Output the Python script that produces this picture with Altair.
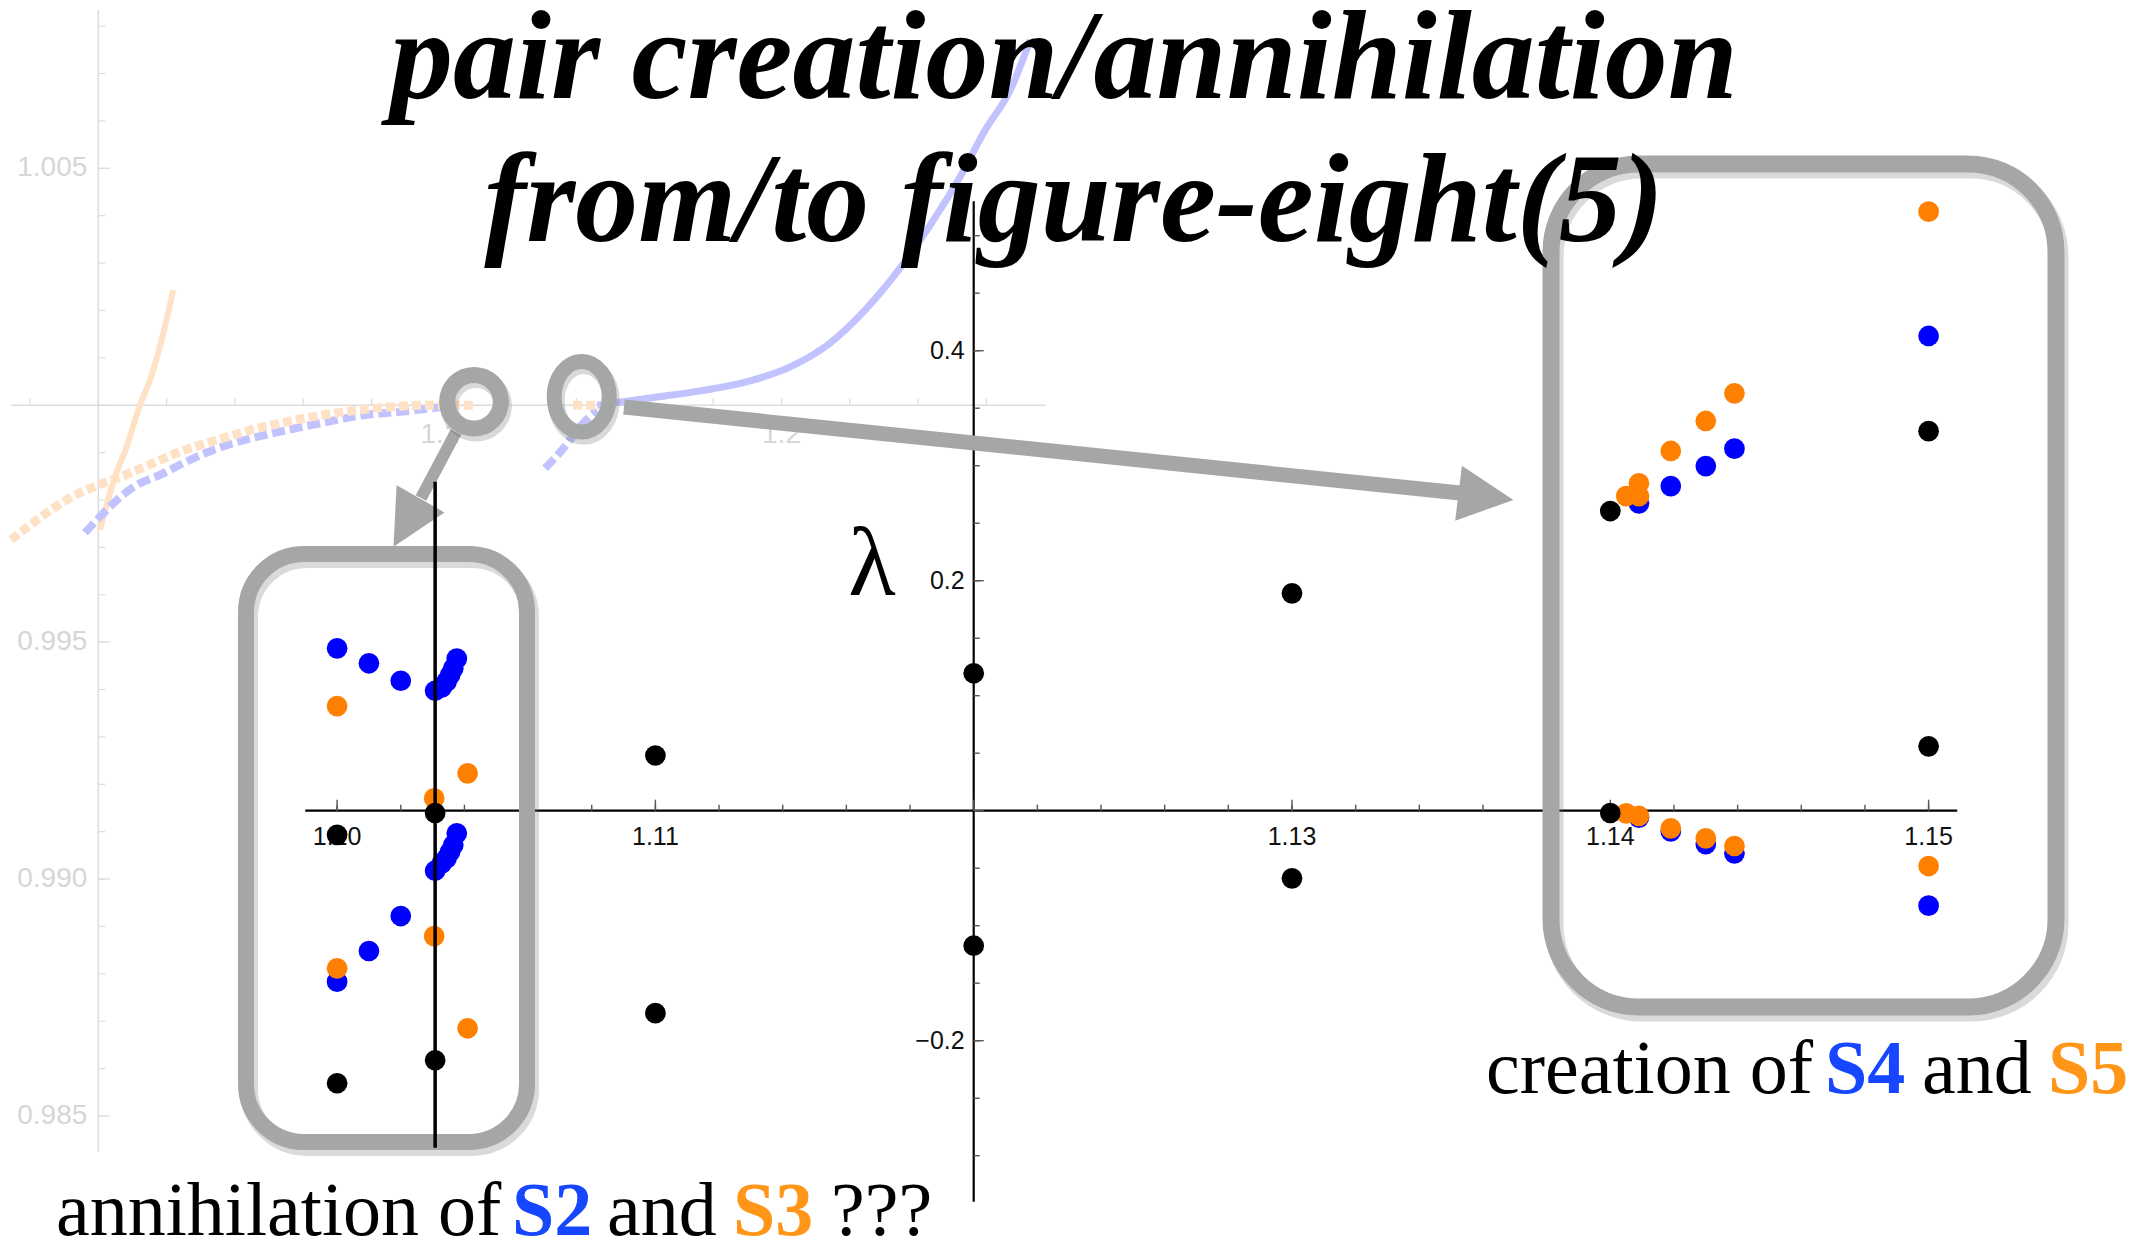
import altair as alt
import pandas as pd

W, H = 2143, 1252

# ---------------- eigenvalues λ of the orbits (main panel) ----------------
black_x = [1.1000, 1.1000, 1.10308, 1.10308, 1.1100, 1.1100, 1.1200, 1.1200,
           1.1300, 1.1300, 1.1400, 1.1400, 1.1500, 1.1500]
black_lam = [-0.021, -0.237, -0.002, -0.217, 0.048, -0.176, 0.1195, -0.1174,
             0.189, -0.0588, 0.2606, -0.002, 0.330, 0.056]

blue_x = [1.1000, 1.1010, 1.1020, 1.10308, 1.10329, 1.10344, 1.10355, 1.10365, 1.10376,
          1.1000, 1.1010, 1.1020, 1.10308, 1.10329, 1.10344, 1.10355, 1.10365, 1.10376,
          1.1409, 1.1419, 1.1430, 1.1439, 1.1500,
          1.1409, 1.1419, 1.1430, 1.1439, 1.1500]
blue_lam = [0.1412, 0.1282, 0.1130, 0.1043, 0.1073, 0.1122, 0.1180, 0.1238, 0.1322,
            -0.1487, -0.1220, -0.0916, -0.0522, -0.0458, -0.0414, -0.0357, -0.0298, -0.0197,
            0.2673, 0.2823, 0.2997, 0.3148, 0.4128,
            -0.0060, -0.0180, -0.0290, -0.0371, -0.0826]

orange_x = [1.1000, 1.1041, 1.10305, 1.1000, 1.10305, 1.1041,
            1.1405, 1.1409, 1.1409, 1.1419, 1.1430, 1.1439, 1.1500,
            1.1405, 1.1409, 1.1419, 1.1430, 1.1439, 1.1500]
orange_lam = [0.0910, 0.0325, 0.0108, -0.1371, -0.1090, -0.1892,
              0.2736, 0.2736, 0.2847, 0.3128, 0.3389, 0.3629, 0.5209,
              -0.0023, -0.0046, -0.0153, -0.0240, -0.0307, -0.0481]

# marker of the annihilation point
marker_x = 1.10308
marker_lam = [-0.293, 0.286]

# main axes
x_extent = [1.0990, 1.1509]
lam_extent = [-0.340, 0.530]
x_major = [1.10, 1.11, 1.12, 1.13, 1.14, 1.15]
x_major_labels = ["1.10", "1.11", "", "1.13", "1.14", "1.15"]
x_minor = [round(1.100 + 0.002 * i, 3) for i in range(26)]
lam_major = [-0.2, 0.0, 0.2, 0.4]
lam_major_labels = ["\u22120.2", "", "0.2", "0.4"]
lam_minor = [round(-0.30 + 0.05 * i, 2) for i in range(17)]

# ---------------- background panel: branches of the orbit family ----------------
orange_solid_x = [1.0005, 1.00489, 1.00832, 1.01221, 1.01514, 1.01903, 1.02196]
orange_solid_y = [0.99737, 0.99849, 0.99913, 1.00001, 1.00053, 1.00152, 1.00243]

orange_dash_x = [0.97444, 0.99113, 1.00928, 1.0171, 1.02392, 1.03174, 1.03953, 1.04735,
                 1.05517, 1.06296, 1.07078, 1.07859, 1.08638, 1.0942, 1.1108]
orange_dash_y = [0.99716, 0.99802, 0.99857, 0.99881, 0.99902, 0.99920, 0.99937, 0.99953,
                 0.99965, 0.99976, 0.99985, 0.99992, 0.99997, 1.0000, 1.0000]
orange_dash2_x = [1.13896, 1.14603]
orange_dash2_y = [1.0000, 1.0000]

blue_dash_x = [0.99611, 1.01133, 1.01807, 1.02782, 1.03953, 1.05124, 1.06492, 1.07859,
               1.08835, 1.10006]
blue_dash_y = [0.99731, 0.99832, 0.99853, 0.99888, 0.99920, 0.99941, 0.99962, 0.99980,
               0.99986, 0.99996]
blue_dash2_x = [1.1308, 1.13617, 1.14106, 1.14594]
blue_dash2_y = [0.99867, 0.99909, 0.99955, 0.9999]

blue_solid_x = [1.14603, 1.16155, 1.17619, 1.19083, 1.20254, 1.21426, 1.22451, 1.23475,
                1.24354, 1.25174, 1.25965, 1.26697, 1.27283]
blue_solid_y = [1.0000, 1.000154, 1.000302, 1.000513, 1.000808, 1.001314, 1.002011,
                1.002897, 1.003804, 1.004753, 1.005808, 1.006652, 1.007707]

# background axes
bg_x_extent = [0.9745, 1.2772]
bg_y_extent = [0.98424, 1.00834]
bg_x_minor = [round(0.98 + 0.02 * i, 2) for i in range(15)]
bg_x_major = [1.1, 1.2]
bg_x_labels = ["1.1", "1.2"]
bg_y_minor = [round(0.985 + 0.001 * i, 3) for i in range(24)]
bg_y_major = [1.005, 0.995, 0.990, 0.985]
bg_y_labels = ["1.005", "0.995", "0.990", "0.985"]

# ---------------- styling ----------------
BLUE, ORANGE, BLACK = "#0000ff", "#ff8000", "#000000"
TXT_BLUE, TXT_ORANGE = "#1646ff", "#ff9618"
GRAY = "#a4a7a5"
SHADOW = "#6a6a6a"
FAINT_BLUE, FAINT_ORANGE = "#c2c2ff", "#ffe2c6"
FAINT_AXIS = "#dcdcdc"
SANS = "Liberation Sans"
SERIF = "Liberation Serif"

MX = dict(domain=[1.10, 1.15], range=[337.1, 1928.6])
MY = dict(domain=[-0.2, 0.4], range=[1040.7, 350.7])
IX = dict(domain=[1.0, 1.2], range=[98.3, 781.5])
IY = dict(domain=[0.985, 1.005], range=[1116.0, 168.3])


def sx(field, sc):
    return alt.X(field, type="quantitative", axis=None,
                 scale=alt.Scale(nice=False, zero=False, **sc))


def sy(field, sc):
    return alt.Y(field, type="quantitative", axis=None,
                 scale=alt.Scale(nice=False, zero=False, **sc))


def sx2(field):
    return alt.X2(field)


def sy2(field):
    return alt.Y2(field)


one = pd.DataFrame({"k": [0]})
layers = []

# ---- background panel axes ----
layers.append(alt.Chart(pd.DataFrame({"a": [bg_x_extent[0]], "b": [bg_x_extent[1]], "y": [1.0]}))
              .mark_rule(color=FAINT_AXIS, strokeWidth=1.5)
              .encode(x=sx("a", IX), x2=sx2("b"), y=sy("y", IY)))
layers.append(alt.Chart(pd.DataFrame({"x": [1.0], "a": [bg_y_extent[0]], "b": [bg_y_extent[1]]}))
              .mark_rule(color=FAINT_AXIS, strokeWidth=1.5)
              .encode(x=sx("x", IX), y=sy("a", IY), y2=sy2("b")))
layers.append(alt.Chart(pd.DataFrame({"x": bg_x_minor, "y": [1.0] * len(bg_x_minor)}))
              .mark_tick(orient="vertical", size=7, thickness=1.2, yOffset=-3.5, color=FAINT_AXIS, opacity=1)
              .encode(x=sx("x", IX), y=sy("y", IY)))
layers.append(alt.Chart(pd.DataFrame({"x": [1.0] * len(bg_y_minor), "y": bg_y_minor}))
              .mark_tick(orient="horizontal", size=7, thickness=1.2, xOffset=3.5, color=FAINT_AXIS, opacity=1)
              .encode(x=sx("x", IX), y=sy("y", IY)))
layers.append(alt.Chart(pd.DataFrame({"x": [1.0] * len(bg_y_major), "y": bg_y_major}))
              .mark_tick(orient="horizontal", size=12, thickness=1.2, xOffset=6, color=FAINT_AXIS, opacity=1)
              .encode(x=sx("x", IX), y=sy("y", IY)))
layers.append(alt.Chart(pd.DataFrame({"x": [1.0] * len(bg_y_major), "y": bg_y_major, "t": bg_y_labels}))
              .mark_text(align="right", baseline="middle", dx=-11, font=SANS, fontSize=28, color="#d6d6d6")
              .encode(x=sx("x", IX), y=sy("y", IY), text="t:N"))
layers.append(alt.Chart(pd.DataFrame({"x": bg_x_major, "y": [1.0] * len(bg_x_major), "t": bg_x_labels}))
              .mark_text(align="center", baseline="alphabetic", dy=38, font=SANS, fontSize=28, color="#d6d6d6")
              .encode(x=sx("x", IX), y=sy("y", IY), text="t:N"))


def bg_line(xv, yv, color, width, dash=None):
    df = pd.DataFrame({"x": xv, "y": yv, "o": list(range(len(xv)))})
    kw = dict(color=color, strokeWidth=width, interpolate="monotone", strokeCap="butt")
    if dash is not None:
        kw["strokeDash"] = dash
    return (alt.Chart(df).mark_line(**kw)
            .encode(x=sx("x", IX), y=sy("y", IY), order="o:Q"))


layers.append(bg_line(orange_solid_x, orange_solid_y, FAINT_ORANGE, 6))
layers.append(bg_line(blue_dash_x, blue_dash_y, FAINT_BLUE, 8, [13, 5]))
layers.append(bg_line(orange_dash_x, orange_dash_y, FAINT_ORANGE, 9, [9, 4]))
layers.append(bg_line(blue_dash2_x, blue_dash2_y, FAINT_BLUE, 8, [13, 5]))
layers.append(bg_line(orange_dash2_x, orange_dash2_y, FAINT_ORANGE, 9, [9, 4]))
layers.append(bg_line(blue_solid_x, blue_solid_y, FAINT_BLUE, 7))

# ---- main axes ----
layers.append(alt.Chart(pd.DataFrame({"a": [x_extent[0]], "b": [x_extent[1]], "y": [0.0]}))
              .mark_rule(color=BLACK, strokeWidth=2.2)
              .encode(x=sx("a", MX), x2=sx2("b"), y=sy("y", MY)))
layers.append(alt.Chart(pd.DataFrame({"x": [1.12], "a": [lam_extent[0]], "b": [lam_extent[1]]}))
              .mark_rule(color=BLACK, strokeWidth=2.2)
              .encode(x=sx("x", MX), y=sy("a", MY), y2=sy2("b")))
layers.append(alt.Chart(pd.DataFrame({"x": x_minor, "y": [0.0] * len(x_minor)}))
              .mark_tick(orient="vertical", size=6, thickness=1.4, yOffset=-3, color="#555555", opacity=1)
              .encode(x=sx("x", MX), y=sy("y", MY)))
layers.append(alt.Chart(pd.DataFrame({"x": x_major, "y": [0.0] * len(x_major)}))
              .mark_tick(orient="vertical", size=11, thickness=1.4, yOffset=-5.5, color="#555555", opacity=1)
              .encode(x=sx("x", MX), y=sy("y", MY)))
layers.append(alt.Chart(pd.DataFrame({"x": [1.12] * len(lam_minor), "y": lam_minor}))
              .mark_tick(orient="horizontal", size=6, thickness=1.4, xOffset=3, color="#555555", opacity=1)
              .encode(x=sx("x", MX), y=sy("y", MY)))
layers.append(alt.Chart(pd.DataFrame({"x": [1.12] * len(lam_major), "y": lam_major}))
              .mark_tick(orient="horizontal", size=10, thickness=1.4, xOffset=5, color="#555555", opacity=1)
              .encode(x=sx("x", MX), y=sy("y", MY)))
layers.append(alt.Chart(pd.DataFrame({"x": x_major, "y": [0.0] * len(x_major), "t": x_major_labels}))
              .mark_text(align="center", baseline="alphabetic", dy=34, font=SANS, fontSize=25, color="#111111")
              .encode(x=sx("x", MX), y=sy("y", MY), text="t:N"))
layers.append(alt.Chart(pd.DataFrame({"x": [1.12] * len(lam_major), "y": lam_major, "t": lam_major_labels}))
              .mark_text(align="right", baseline="middle", dx=-9, font=SANS, fontSize=25, color="#111111")
              .encode(x=sx("x", MX), y=sy("y", MY), text="t:N"))

# ---- rounded frames around the two regions ----
def frame(x0, x1, y0, y1, r, w):
    sh = (alt.Chart(one).mark_rect(fillOpacity=0, stroke=SHADOW, strokeWidth=w + 2,
                                   strokeOpacity=0.25, cornerRadius=r)
          .encode(x=alt.value(x0 + 3), x2=alt.value(x1 + 3), y=alt.value(y0 + 5), y2=alt.value(y1 + 5)))
    fr = (alt.Chart(one).mark_rect(fillOpacity=0, stroke=GRAY, strokeWidth=w, cornerRadius=r)
          .encode(x=alt.value(x0), x2=alt.value(x1), y=alt.value(y0), y2=alt.value(y1)))
    return [sh, fr]


layers += frame(246, 527, 554, 1142, 58, 16)
layers += frame(1551, 2056, 164, 1007, 88, 17)

# ---- rings and arrows ----
ELLIPSE = "M -0.78 0 A 0.78 1 0 1 1 0.78 0 A 0.78 1 0 1 1 -0.78 0 Z"
HEAD = "M 1 0 L -1 -1 L -1 1 Z"


def ring(cx, cy, shape, size, w):
    sh = (alt.Chart(one).mark_point(shape=shape, filled=False, size=size, stroke=SHADOW,
                                    strokeWidth=w + 2, opacity=0.25)
          .encode(x=alt.value(cx + 2), y=alt.value(cy + 4)))
    rg = (alt.Chart(one).mark_point(shape=shape, filled=False, size=size, stroke=GRAY,
                                    strokeWidth=w, opacity=1)
          .encode(x=alt.value(cx), y=alt.value(cy)))
    return [sh, rg]


def arrow(x0, y0, x1, y1, w, hx, hy, hsize, angle):
    shaft = (alt.Chart(one).mark_rule(color=GRAY, strokeWidth=w, strokeCap="butt")
             .encode(x=alt.value(x0), y=alt.value(y0), x2=alt.value(x1), y2=alt.value(y1)))
    head = (alt.Chart(one).mark_point(shape=HEAD, filled=True, fill=GRAY, size=hsize,
                                      angle=angle, opacity=1, strokeWidth=0)
            .encode(x=alt.value(hx), y=alt.value(hy)))
    return [shaft, head]


layers += arrow(456, 432, 421, 498, 12, 407, 522.8, 3025, 119.5)
layers += arrow(624, 407, 1460, 493, 15, 1486, 496.6, 3060, 7)
layers += ring(474, 401.7, "circle", 2873, 16)
layers += ring(581.7, 396.7, ELLIPSE, 4984, 15)

# ---- eigenvalue points ----
def points(xv, yv, color):
    df = pd.DataFrame({"x": xv, "lam": yv})
    return (alt.Chart(df).mark_circle(size=430, color=color, opacity=1)
            .encode(x=sx("x", MX), y=sy("lam", MY)))


layers.append(points(blue_x, blue_lam, BLUE))
layers.append(points(orange_x, orange_lam, ORANGE))
layers.append(points(black_x, black_lam, BLACK))

layers.append(alt.Chart(pd.DataFrame({"x": [marker_x], "a": [marker_lam[0]], "b": [marker_lam[1]]}))
              .mark_rule(color=BLACK, strokeWidth=3.5)
              .encode(x=sx("x", MX), y=sy("a", MY), y2=sy2("b")))

# ---- texts ----
def label(text, x, y, size, color=BLACK, weight="normal", style="normal", align="left", font=SERIF):
    return (alt.Chart(one).mark_text(font=font, fontSize=size, fontWeight=weight, fontStyle=style,
                                     align=align, baseline="alphabetic", color=color)
            .encode(x=alt.value(x), y=alt.value(y), text=alt.value(text)))


layers.append(label("\u03bb", 872, 595, 98, align="center"))
layers.append(label("pair creation/annihilation", 1064, 98, 126, weight="bold", style="italic", align="center"))
layers.append(label("from/to figure-eight(5)", 1074, 241, 126, weight="bold", style="italic", align="center"))

CAP_Y = 1235
layers.append(label("annihilation of", 56, CAP_Y, 76))
layers.append(label("S2", 512, CAP_Y, 76, color=TXT_BLUE, weight="bold"))
layers.append(label("and", 607, CAP_Y, 76))
layers.append(label("S3", 733, CAP_Y, 76, color=TXT_ORANGE, weight="bold"))
layers.append(label("???", 831, CAP_Y, 76))

layers.append(label("creation of", 1486, 1093, 76))
layers.append(label("S4", 1825, 1093, 76, color=TXT_BLUE, weight="bold"))
layers.append(label("and", 1922, 1093, 76))
layers.append(label("S5", 2048, 1093, 76, color=TXT_ORANGE, weight="bold"))

chart = (alt.layer(*layers)
         .resolve_scale(x="independent", y="independent")
         .properties(width=W, height=H, padding=0, autosize=alt.AutoSizeParams(type="none"),
                     background="white")
         .configure_view(stroke=None))

chart.save("out.html", embed_options={"renderer": "svg", "actions": False})
